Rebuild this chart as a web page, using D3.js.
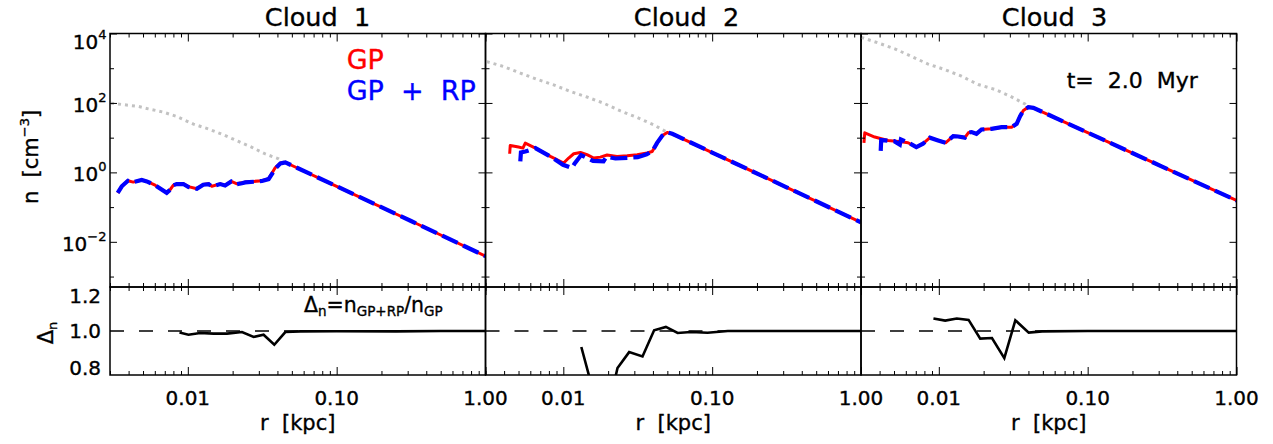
<!DOCTYPE html>
<html><head><meta charset="utf-8">
<script src="https://cdn.jsdelivr.net/npm/d3@7"></script>
<style>
body{margin:0;background:#fff}
svg{display:block}
text{font-family:'DejaVu Sans',sans-serif;fill:#000;white-space:pre;stroke-width:0.35px}
</style>
</head><body>
<svg id="chart" width="1273" height="444"></svg>
<script>
// ---------------- data ----------------
const cloudTitles = ["Cloud  1", "Cloud  2", "Cloud  3"];
const xTickValues = [0.01, 0.1, 1];
const xTickLabels = ["0.01", "0.10", "1.00"];
const yTickExponents = [4, 2, 0, -2];
const yTickLabelsBase = ["10", "10", "10", "10"];
const yTickLabelsSup = ["4", "2", "0", "\u22122"];
const dTickValues = [0.8, 1.0, 1.2];
const dTickLabels = ["0.8", "1.0", "1.2"];
const legendLabels = ["GP", "GP  +  RP"];
const timeLabel = "t=  2.0  Myr";

// Cloud 1
const c1_r_gp = [0.00338,0.00360,0.00396,0.00430,0.00490,0.00530,0.00603,0.00721,0.00760,0.00800,0.00843,0.00933,0.0101,0.0115,0.0127,0.0138,0.0145,0.0165,0.0178,0.0196,0.0214,0.0231,0.0243,0.0277,0.0315,0.0349,0.0368,0.0387,0.0419,0.0452,0.0501,0.1,0.316,1.0];
const c1_n_gp = [0.257,0.398,0.575,0.525,0.603,0.550,0.427,0.257,0.316,0.427,0.468,0.468,0.389,0.339,0.447,0.468,0.398,0.468,0.427,0.550,0.468,0.501,0.525,0.550,0.575,0.661,0.955,1.38,1.86,1.95,1.58,0.398,0.0398,0.00389];
const c1_r_rp = [0.00338,0.00360,0.00396,0.00430,0.00490,0.00530,0.00603,0.00721,0.00760,0.00800,0.00843,0.00933,0.0101,0.0115,0.0127,0.0138,0.0145,0.0165,0.0178,0.0196,0.0214,0.0231,0.0243,0.0277,0.0315,0.0349,0.0368,0.0387,0.0419,0.0452,0.0501,0.1,0.316,1.0];
const c1_n_rp = [0.257,0.398,0.575,0.525,0.603,0.550,0.427,0.257,0.316,0.427,0.462,0.462,0.380,0.336,0.442,0.461,0.392,0.461,0.421,0.547,0.457,0.486,0.513,0.538,0.566,0.641,0.900,1.28,1.82,1.94,1.58,0.398,0.0398,0.00389];
const c1_r_ini = [0.00305,0.00378,0.00466,0.00543,0.00685,0.00843,0.01091,0.01377,0.01738,0.02193,0.02698,0.03319,0.04074,0.04365];
const c1_n_ini = [98.6,88.1,79.4,67.6,54.3,40.7,24.5,17.8,12.0,7.76,5.25,3.39,2.45,2.04];
const c1_r_d = [0.00879,0.0101,0.01211,0.01489,0.01832,0.02312,0.02768,0.03228,0.03811,0.04519,0.05702,0.1,0.251,0.501,1.0];
const c1_d = [0.991,0.979,0.989,0.985,0.985,0.994,0.966,0.979,0.922,0.994,0.998,0.999,0.998,1.0,1.0];

// Cloud 2
const c2_r_gp = [0.00436,0.00440,0.00500,0.00535,0.00555,0.00649,0.00818,0.01005,0.01086,0.01175,0.01303,0.01442,0.01600,0.01774,0.01968,0.02296,0.02686,0.03133,0.03655,0.03954,0.04266,0.04614,0.04989,0.05395,0.1,0.3162,1.0];
const c2_n_gp = [3.44,5.97,5.37,5.01,7.00,5.01,2.88,1.86,2.59,3.44,3.76,3.24,2.59,2.75,3.16,2.88,3.02,3.24,3.61,3.98,7.00,11.35,14.1,12.9,3.72,0.372,0.0363];
const c2_r_rp = [0.00514,0.00519,0.00555,0.00649,0.00818,0.00995,0.01143,0.01189,0.01318,0.01585,0.01862,0.01950,0.02239,0.02692,0.03162,0.03631,0.03981,0.04266,0.04614,0.04989,0.05395,0.1,0.3162,1.0];
const c2_n_rp = [2.07,3.76,3.98,5.01,2.88,1.66,1.34,1.78,3.16,2.14,2.09,2.82,2.51,2.63,2.75,3.31,4.17,7.08,11.35,14.1,12.9,3.72,0.372,0.0363];
const c2_r_ini = [0.00306,0.00396,0.00514,0.00665,0.00861,0.01114,0.01442,0.01871,0.02421,0.03133,0.04055,0.04864];
const c2_n_ini = [1549,1122,724,479,331,214,148,97.7,58.9,38.0,23.4,15.1];
const c2_r_d = [0.01321,0.01585,0.01905,0.02188,0.02312,0.02768,0.03404,0.04074,0.04887,0.05862,0.07194,0.0931,0.1274,0.1995,0.398,1.0];
const c2_d = [0.909,0.66,0.58,0.70,0.79,0.88,0.855,1.004,1.023,0.989,0.994,0.99,1.0,1.0,1.0,1.0];

// Cloud 3
const c3_r_gp = [0.00314,0.00318,0.00371,0.00456,0.00560,0.00621,0.00706,0.00783,0.00871,0.00989,0.01109,0.01250,0.01349,0.01496,0.01578,0.01660,0.01790,0.01936,0.02259,0.02642,0.03083,0.03334,0.03516,0.03698,0.03999,0.04315,0.1,0.3162,1.0];
const c3_n_gp = [7.13,13.8,10.4,8.32,7.59,7.13,5.37,6.68,10.0,8.32,7.13,11.1,10.8,10.0,13.8,14.5,12.9,17.2,18.0,20.0,20.0,25.1,41.7,60.3,75.9,72.4,14.0,1.47,0.155];
const c3_r_rp = [0.00407,0.00410,0.00501,0.00547,0.00556,0.00621,0.00706,0.00783,0.00871,0.00989,0.01109,0.01250,0.01349,0.01496,0.01578,0.01660,0.01790,0.01936,0.02259,0.02642,0.03083,0.03334,0.03516,0.03698,0.03999,0.04315,0.1,0.3162,1.0];
const c3_n_rp = [4.17,8.51,7.94,6.31,8.91,7.24,5.37,6.68,10.0,8.32,7.13,11.1,10.8,10.0,13.8,14.5,12.9,17.2,18.0,20.0,20.0,25.1,41.7,60.3,75.9,72.4,14.0,1.47,0.155];
const c3_r_ini = [0.00301,0.00390,0.00506,0.00655,0.00847,0.01099,0.01419,0.01841,0.02382,0.03006,0.03793,0.0398];
const c3_n_ini = [7762,5370,3631,2188,1318,912,589,339,245,158,93.3,75.9];
const c3_r_d = [0.00920,0.01104,0.01321,0.01585,0.01897,0.02275,0.02754,0.03266,0.04018,0.04943,0.1,0.3162,1.0];
const c3_d = [1.071,1.059,1.071,1.063,0.957,0.96,0.846,1.061,0.991,0.998,1.0,1.0,1.0];

const clouds = [
  {gp:[c1_r_gp,c1_n_gp], rp:[c1_r_rp,c1_n_rp], ini:[c1_r_ini,c1_n_ini], d:[c1_r_d,c1_d]},
  {gp:[c2_r_gp,c2_n_gp], rp:[c2_r_rp,c2_n_rp], ini:[c2_r_ini,c2_n_ini], d:[c2_r_d,c2_d]},
  {gp:[c3_r_gp,c3_n_gp], rp:[c3_r_rp,c3_n_rp], ini:[c3_r_ini,c3_n_ini], d:[c3_r_d,c3_d]}
];
const zip = (a, b) => a.map((v, i) => [v, b[i]]);

// ---------------- layout ----------------
const svg = d3.select("#chart");
const lefts = [110, 485.5, 861];
const W = 375.5;
const yTopPx = 33.5, yMidPx = 287, yBotPx = 375;
const titleX = [317.5, 686.5, 1054.5];
const FS = 20;

const yT = d3.scaleLog().domain([5e-4, 1e4]).range([yMidPx, yTopPx]);
const yB = d3.scaleLinear().domain([0.75, 1.25]).range([yBotPx, yMidPx]);

const xMinor = [];
[0.001, 0.01, 0.1].forEach(d => { for (let k = 2; k <= 9; k++) { const v = +(k * d).toPrecision(3); if (v >= 0.003 && v < 1) xMinor.push(v); } });
const yMinor = [1e3, 1e1, 1e-1, 1e-3];

const defs = svg.append("defs");

clouds.forEach((c, i) => {
  const L = lefts[i];
  const x = d3.scaleLog().domain([0.003, 1]).range([L, L + W]);
  const g = svg.append("g");

  defs.append("clipPath").attr("id", "ct" + i).append("rect")
    .attr("x", L).attr("y", yTopPx).attr("width", W).attr("height", yMidPx - yTopPx);
  defs.append("clipPath").attr("id", "cb" + i).append("rect")
    .attr("x", L).attr("y", yMidPx).attr("width", W).attr("height", yBotPx - yMidPx);

  const lineT = d3.line().x(d => x(d[0])).y(d => yT(d[1]));
  const lineB = d3.line().x(d => x(d[0])).y(d => yB(d[1]));

  const top = g.append("g").attr("clip-path", `url(#ct${i})`);
  top.append("path").attr("d", lineT(zip(...c.ini)))
    .attr("fill", "none").attr("stroke", "#c2c2c2").attr("stroke-width", 3)
    .attr("stroke-dasharray", "3,4");
  top.append("path").attr("d", lineT(zip(...c.gp)))
    .attr("fill", "none").attr("stroke", "#ff0000").attr("stroke-width", 3)
    .attr("stroke-linejoin", "round");
  top.append("path").attr("d", lineT(zip(...c.rp)))
    .attr("fill", "none").attr("stroke", "#0000ff").attr("stroke-width", 4.2)
    .attr("stroke-dasharray", "17,6");

  const bot = g.append("g").attr("clip-path", `url(#cb${i})`);
  bot.append("line").attr("x1", L).attr("x2", L + W).attr("y1", yB(1)).attr("y2", yB(1))
    .attr("stroke", "#000").attr("stroke-width", 1.5).attr("stroke-dasharray", "14,15");
  bot.append("path").attr("d", lineB(zip(...c.d)))
    .attr("fill", "none").attr("stroke", "#000").attr("stroke-width", 2.6)
    .attr("stroke-linejoin", "miter");

  const xAxes = [
    {y: yTopPx, gen: d3.axisBottom},
    {y: yMidPx, gen: d3.axisTop},
    {y: yMidPx, gen: d3.axisBottom},
    {y: yBotPx, gen: d3.axisTop}
  ];
  xAxes.forEach(a => {
    [[xTickValues, 8], [xMinor, 4]].forEach(([vals, size]) => {
      const ax = g.append("g").attr("transform", `translate(0,${a.y})`)
        .call(a.gen(x).tickValues(vals).tickSize(size).tickFormat(""));
      ax.select(".domain").remove();
      ax.selectAll("line").attr("stroke", "#000").attr("stroke-width", 1);
    });
  });
  [[L, d3.axisRight], [L + W, d3.axisLeft]].forEach(([px, gen]) => {
    [[yTickExponents.map(e => Math.pow(10, e)), 7], [yMinor, 4]].forEach(([vals, size]) => {
      const ax = g.append("g").attr("transform", `translate(${px},0)`)
        .call(gen(yT).tickValues(vals).tickSize(size).tickFormat(""));
      ax.select(".domain").remove();
      ax.selectAll("line").attr("stroke", "#000").attr("stroke-width", 1);
    });
  });

  g.selectAll(".xl").data(xTickValues).join("text")
    .attr("x", d => x(d)).attr("y", 405).attr("text-anchor", "middle")
    .attr("font-size", FS).style("stroke", "#000").text((d, j) => xTickLabels[j]);
  g.append("text").attr("x", L + W / 2).attr("y", 430).attr("text-anchor", "middle")
    .attr("font-size", 21).style("stroke", "#000").text("r  [kpc]");

  g.append("rect").attr("x", L).attr("y", yTopPx).attr("width", W).attr("height", yMidPx - yTopPx)
    .attr("fill", "none").attr("stroke", "#000").attr("stroke-width", 1.5);
  g.append("rect").attr("x", L).attr("y", yMidPx).attr("width", W).attr("height", yBotPx - yMidPx)
    .attr("fill", "none").attr("stroke", "#000").attr("stroke-width", 1.5);

  svg.append("text").attr("x", titleX[i]).attr("y", 26).attr("text-anchor", "middle")
    .attr("font-size", 25.5).style("stroke", "#000").text(cloudTitles[i]);
});

yTickExponents.forEach((e, j) => {
  const py = yT(Math.pow(10, e)) + (j === 0 ? 8.5 : 2);
  const t = svg.append("text").attr("x", 106.5).attr("y", py + 7).attr("text-anchor", "end")
    .attr("font-size", FS).style("stroke", "#000");
  t.append("tspan").text(yTickLabelsBase[j]);
  t.append("tspan").attr("font-size", 13).attr("dy", -10).text(yTickLabelsSup[j]);
});
dTickValues.forEach((v, j) => {
  svg.append("text").attr("x", 101).attr("y", yB(v) + 7 + (v < 0.9 ? 2 : 0)).attr("text-anchor", "end")
    .attr("font-size", FS).style("stroke", "#000").text(dTickLabels[j]);
});

const yl = svg.append("text").attr("transform", "translate(38,157) rotate(-90)")
  .attr("text-anchor", "middle").attr("font-size", 21).style("stroke", "#000");
yl.append("tspan").text("n  [cm");
yl.append("tspan").attr("font-size", 13).attr("dy", -9).text("\u22123");
yl.append("tspan").attr("dy", 9).text("]");

const dl = svg.append("text").attr("transform", "translate(53,333) rotate(-90)")
  .attr("text-anchor", "middle").attr("font-size", 21).style("stroke", "#000");
dl.append("tspan").text("\u0394");
dl.append("tspan").attr("font-size", 13).attr("dy", 4).text("n");

svg.append("text").attr("x", 346.7).attr("y", 69).attr("font-size", 27)
  .style("fill", "#ff0000").style("stroke", "#ff0000").text(legendLabels[0]);
svg.append("text").attr("x", 346.7).attr("y", 99.5).attr("font-size", 27)
  .style("fill", "#0000ff").style("stroke", "#0000ff").text(legendLabels[1]);
svg.append("text").attr("x", 1066.7).attr("y", 87.5).attr("font-size", 22)
  .style("stroke", "#000").text(timeLabel);

const an = svg.append("text").attr("x", 304).attr("y", 312).attr("font-size", 20.5).style("stroke", "#000");
an.append("tspan").text("\u0394");
an.append("tspan").attr("font-size", 13.5).attr("dy", 4).text("n");
an.append("tspan").attr("dy", -4).text("=n");
an.append("tspan").attr("font-size", 13.5).attr("dy", 4).text("GP+RP");
an.append("tspan").attr("dy", -4).text("/n");
an.append("tspan").attr("font-size", 13.5).attr("dy", 4).text("GP");
</script>
</body></html>
